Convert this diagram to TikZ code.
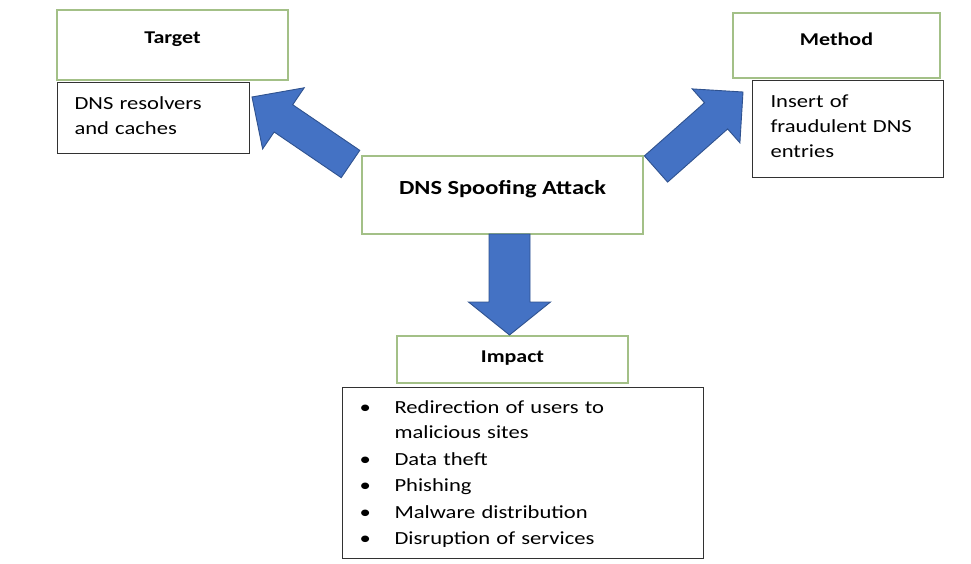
\documentclass[tikz,border=0pt]{standalone}
\usepackage{fontspec}
\setmainfont[FakeStretch=1.22]{Carlito}
\usetikzlibrary{calc}
\definecolor{boxgreen}{RGB}{163,192,135}
\definecolor{boxdark}{RGB}{50,50,50}
\definecolor{arrowfill}{RGB}{68,114,196}
\definecolor{arrowline}{RGB}{47,82,143}
\newcommand{\bigarrow}[5]{%
  % #1 tail, #2 tip, #3 half shaft width, #4 half head width, #5 head length
  \coordinate (ba-h) at ($(#2)!#5!(#1)$);
  \path[blockarrow]
    ($(#1)!#3!90:(#2)$) -- ($(ba-h)!#3!90:(#2)$) -- ($(ba-h)!#4!90:(#2)$) --
    (#2) --
    ($(ba-h)!#4!-90:(#2)$) -- ($(ba-h)!#3!-90:(#2)$) -- ($(#1)!#3!-90:(#2)$) -- cycle;
}
\newcommand{\bul}{\makebox[35pt][l]{•}}
\begin{document}
\begin{tikzpicture}[x=1pt,y=-1pt,
  titlebox/.style={draw=boxgreen, line width=1.1pt, inner sep=0pt,
    font=\fontsize{18}{22}\selectfont\bfseries},
  descbox/.style={draw=boxdark, line width=1.1pt, inner ysep=0pt, align=left,
    font=\fontsize{18.5}{25}\selectfont},
  blockarrow/.style={fill=arrowfill, draw=arrowline, line width=0.9pt, line join=miter}]
\useasboundingbox (0,0) rectangle (971,564);

% Target
\node[titlebox, minimum width=231pt, minimum height=70pt, text height=8pt, text depth=10pt]
  (target) at (172.5,45) {Target};
\node[descbox, anchor=north west, minimum width=192pt, minimum height=71pt,
  inner xsep=17pt, text width=158pt, text height=10pt, text depth=27pt]
  (targetd) at (57,82) {DNS resolvers\\and caches};

% Method
\node[titlebox, minimum width=207pt, minimum height=65pt, text height=9pt, text depth=9pt]
  (method) at (836.5,45.5) {Method};
\node[descbox, anchor=north west, minimum width=191pt, minimum height=97pt,
  inner xsep=18pt, text width=155pt, text height=10pt, text depth=53pt]
  (methodd) at (752,80) {Insert of\\fraudulent DNS\\entries};

% Center
\node[titlebox, font=\fontsize{20}{24}\selectfont\bfseries, minimum width=281pt,
  minimum height=78pt, text height=9pt, text depth=9pt]
  (attack) at (502.5,195) {DNS Spoofing Attack};

% Impact
\node[titlebox, minimum width=231pt, minimum height=47pt, text height=10.5pt, text depth=5.5pt]
  (impact) at (512.5,359.5) {Impact};
\node[descbox, anchor=north west, minimum width=361pt, minimum height=171pt,
  inner xsep=17pt, text width=327pt, text height=10pt, text depth=129pt]
  (impactd) at (342,387) {\bul Redirection of users to\\
  \hspace*{35pt}malicious sites\\[1.5pt]
  \bul Data theft\\[1.5pt]
  \bul Phishing\\[1.5pt]
  \bul Malware distribution\\[1.5pt]
  \bul Disruption of services};

% Arrows
\coordinate (lt) at (350.5,164);
\coordinate (lp) at (252,97);
\coordinate (rt) at (656,169);
\coordinate (rp) at (743,92);
\coordinate (dt) at (509.5,234);
\coordinate (dp) at (509.5,335);
\bigarrow{lt}{lp}{16.5pt}{37pt}{38pt}
\bigarrow{rt}{rp}{17.5pt}{36pt}{36pt}
\bigarrow{dt}{dp}{20.5pt}{41pt}{33pt}
\end{tikzpicture}
\end{document}
